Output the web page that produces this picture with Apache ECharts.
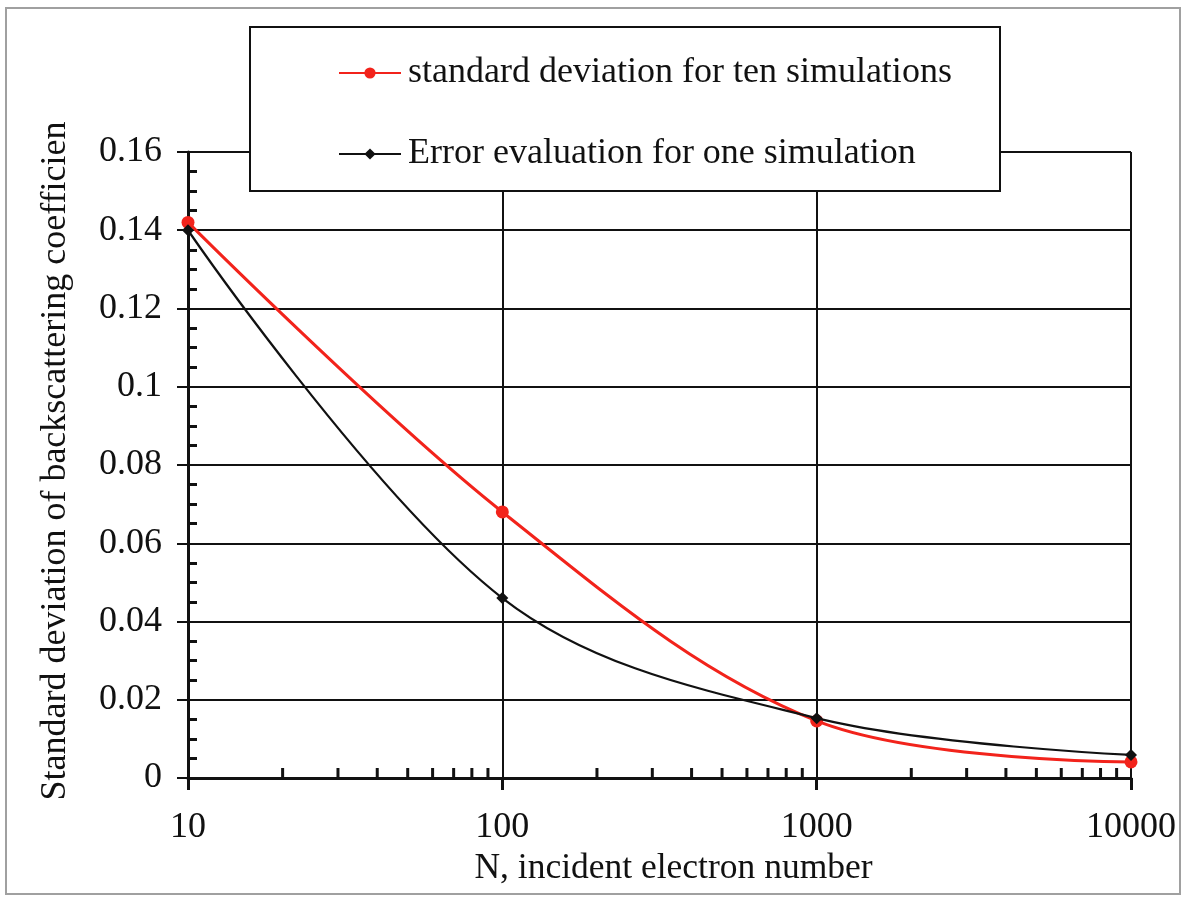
<!DOCTYPE html>
<html>
<head>
<meta charset="utf-8">
<title>Backscattering coefficient deviation vs. incident electron number</title>
<script src="https://cdn.jsdelivr.net/npm/echarts@6/dist/echarts.min.js"></script>
<style>
  html, body { margin: 0; padding: 0; background: #fff; }
  #chart { width: 1185px; height: 900px; }
</style>
</head>
<body>
<div id="chart"></div>
<script>
// Incident electron numbers (log-scaled x axis)
const electronNumbers = [10, 100, 1000, 10000];

// Standard deviation over ten simulations
const tenSimStd = [0.142, 0.068, 0.0146, 0.0041];

// Error evaluated from a single simulation
const oneSimError = [0.140, 0.046, 0.0153, 0.0059];

// Series names as shown in the legend
const seriesNames = [
  'standard deviation for ten simulations',
  'Error evaluation for one simulation'
];

// Intermediate log-decade tick positions on the x axis
const xMinorTicks = [20, 30, 40, 50, 60, 70, 80, 90,
                     200, 300, 400, 500, 600, 700, 800, 900,
                     2000, 3000, 4000, 5000, 6000, 7000, 8000, 9000];

const FONT = '"Liberation Serif", "Times New Roman", serif';

const chart = echarts.init(document.getElementById('chart'), null, { renderer: 'canvas' });

const pairs = (xs, ys) => xs.map((x, i) => [x, ys[i]]);

const option = {
  backgroundColor: '#ffffff',
  animation: false,
  textStyle: { fontFamily: FONT, color: '#111' },
  grid: { left: 188, right: 54, top: 152, bottom: 122, containLabel: false },
  graphic: [
    {
      type: 'rect', z: -10, silent: true,
      shape: { x: 6, y: 8, width: 1174, height: 886 },
      style: { fill: 'none', stroke: '#a0a0a0', lineWidth: 2 }
    },
    {
      type: 'rect', z: 50, silent: true,
      shape: { x: 250, y: 27, width: 750, height: 164 },
      style: { fill: '#ffffff', stroke: '#111', lineWidth: 2 }
    }
  ],
  legend: {
    z: 60,
    orient: 'vertical',
    left: 338,
    top: 55,
    itemGap: 45,
    itemWidth: 62,
    itemHeight: 14,
    padding: 0,
    data: seriesNames,
    textStyle: { fontFamily: FONT, fontSize: 36, color: '#111', lineHeight: 30, padding: [0, 0, 0, 2] }
  },
  xAxis: {
    type: 'log',
    logBase: 10,
    min: 10,
    max: 10000,
    name: 'N, incident electron number',
    nameLocation: 'middle',
    nameGap: 73,
    nameTextStyle: { fontFamily: FONT, fontSize: 35.5, color: '#111', padding: [0, 0, 0, 28] },
    axisLine: { show: true, onZero: false, lineStyle: { color: '#111', width: 3 } },
    axisTick: { show: true, inside: false, length: 12, lineStyle: { color: '#111', width: 3 } },
    minorTick: { show: false },
    axisLabel: {
      fontFamily: FONT, fontSize: 36, color: '#111', margin: 32,
      formatter: v => String(Math.round(v))
    },
    splitLine: { show: true, lineStyle: { color: '#111', width: 2 } }
  },
  yAxis: [
    {
      type: 'value',
      min: 0,
      max: 0.16,
      interval: 0.02,
      name: 'Standard deviation of backscattering coefficien',
      nameLocation: 'middle',
      nameGap: 114,
      nameTextStyle: { fontFamily: FONT, fontSize: 36, color: '#111', padding: [0, 0, 0, 8] },
      axisLine: { show: true, lineStyle: { color: '#111', width: 3 } },
      axisTick: { show: true, inside: false, length: 11, lineStyle: { color: '#111', width: 2 } },
      axisLabel: { fontFamily: FONT, fontSize: 36, color: '#111', margin: 26 },
      splitLine: { show: true, lineStyle: { color: '#111', width: 2 } }
    },
    {
      // companion axis carrying only the inward minor ticks
      type: 'value',
      position: 'left',
      min: 0,
      max: 0.16,
      interval: 0.02,
      axisLine: { show: false },
      axisTick: { show: false, inside: true },
      axisLabel: { show: false },
      splitLine: { show: false },
      minorTick: { show: true, splitNumber: 4, length: 9, lineStyle: { color: '#111', width: 3 } }
    }
  ],
  series: [
    {
      // inward minor ticks between decades on the x axis
      type: 'custom',
      silent: true,
      z: 3,
      data: xMinorTicks.map(v => [v, 0]),
      renderItem: (params, api) => {
        const p = api.coord([api.value(0), api.value(1)]);
        return {
          type: 'line',
          shape: { x1: p[0], y1: p[1], x2: p[0], y2: p[1] - 10 },
          style: { stroke: '#111', lineWidth: 3 }
        };
      }
    },
    {
      name: seriesNames[0],
      type: 'line',
      smooth: 0.35,
      data: pairs(electronNumbers, tenSimStd),
      symbol: 'circle',
      symbolSize: 13,
      z: 5,
      lineStyle: { color: '#f2231b', width: 3 },
      itemStyle: { color: '#f2231b' }
    },
    {
      name: seriesNames[1],
      type: 'line',
      smooth: 0.35,
      data: pairs(electronNumbers, oneSimError),
      symbol: 'diamond',
      symbolSize: 12,
      z: 6,
      lineStyle: { color: '#111', width: 2.2 },
      itemStyle: { color: '#111' }
    }
  ]
};

chart.setOption(option);
</script>
</body>
</html>
